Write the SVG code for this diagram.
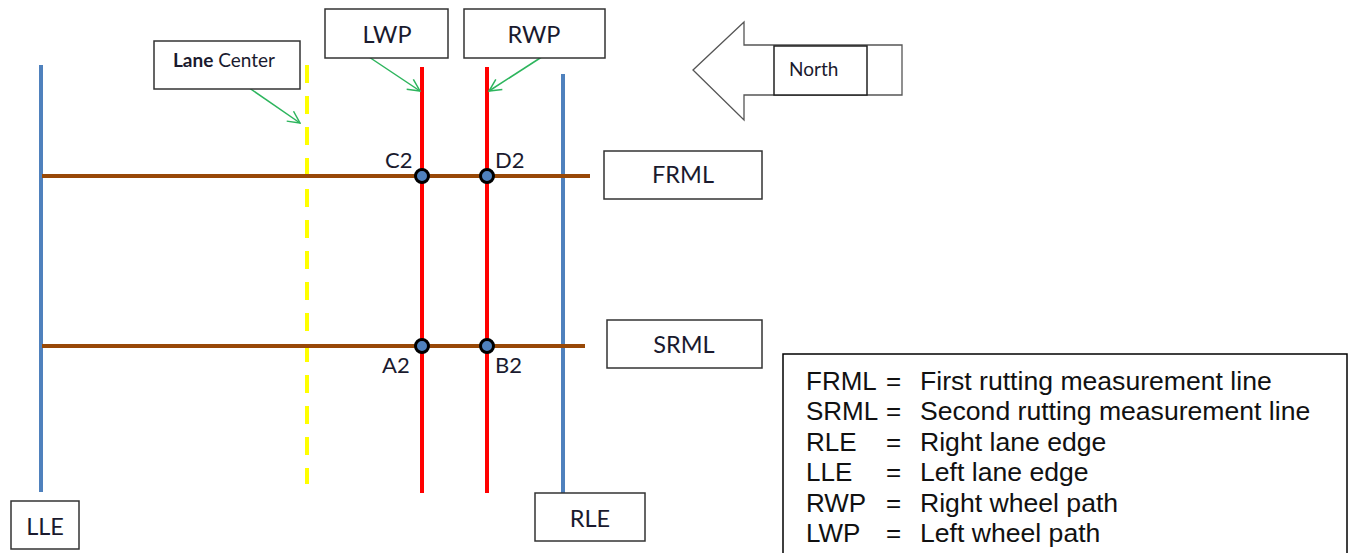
<svg xmlns="http://www.w3.org/2000/svg" width="1351" height="553" viewBox="0 0 1351 553">
<style>
.box{fill:#fff;stroke:#333;stroke-width:1.5}
.lbl{font-family:Lato,"Open Sans",sans-serif;font-size:23.5px;fill:#1a1a2e;text-anchor:middle}
.pt{font-family:Lato,"Open Sans",sans-serif;font-size:22px;fill:#1a1a2e}
.leg{font-family:"Liberation Sans",Arial,sans-serif;font-size:26px;fill:#111}
.desc{font-family:"Liberation Sans",Arial,sans-serif;font-size:26.6px;fill:#111}
.green{stroke:#2DB55D;stroke-width:1.5;fill:none;marker-end:url(#ah)}
.red{stroke:#FF0000;stroke-width:4}
.blue{stroke:#4F81BD;stroke-width:4}
.brown{stroke:#984807;stroke-width:4}
.dot{fill:#4F81BD;stroke:#000;stroke-width:3}
</style>
<defs>
<marker id="ah" markerWidth="14" markerHeight="14" viewBox="0 0 14 14" refX="13" refY="7" orient="auto" markerUnits="userSpaceOnUse">
<polyline points="1,1 13,7 1,13" fill="none" stroke="#2DB55D" stroke-width="1.5"/>
</marker>
</defs>
<rect width="1351" height="553" fill="#fff"/>
<g id="lines">
<line id="lle-line" class="blue" x1="41" y1="65" x2="41" y2="492"/>
<line id="rle-line" class="blue" x1="563" y1="74" x2="563" y2="501"/>
<line id="lane-center-line" x1="307" y1="65" x2="307" y2="484" stroke="#FFFF00" stroke-width="4" stroke-dasharray="18 13"/>
<line id="frml-line" class="brown" x1="42" y1="176" x2="590" y2="176"/>
<line id="srml-line" class="brown" x1="42" y1="346" x2="585" y2="346"/>
<line id="lwp-line" class="red" x1="422" y1="67" x2="422" y2="493"/>
<line id="rwp-line" class="red" x1="487" y1="67" x2="487" y2="493"/>
</g>
<g id="connectors">
<line class="green" x1="242" y1="83" x2="300" y2="123"/>
<line class="green" x1="360" y1="51" x2="420" y2="91"/>
<line class="green" x1="551" y1="51" x2="489" y2="91"/>
</g>
<g id="points">
<circle class="dot" cx="422" cy="176" r="6.5"/>
<circle class="dot" cx="487" cy="176" r="6.5"/>
<circle class="dot" cx="422" cy="346" r="6.5"/>
<circle class="dot" cx="487" cy="346" r="6.5"/>
<text class="pt" x="385" y="168">C2</text>
<text class="pt" x="495" y="168">D2</text>
<text class="pt" x="382" y="373">A2</text>
<text class="pt" x="495" y="373">B2</text>
</g>
<g id="lane-center">
<rect class="box" x="154" y="41" width="146" height="48"/>
<text x="173" y="67" font-family="Lato,'Open Sans',sans-serif" font-size="19" fill="#1a1a2e"><tspan font-weight="bold">Lane</tspan> Center</text>
</g>
<g id="lwp">
<rect class="box" x="325" y="9" width="123" height="49"/>
<text class="lbl" x="387" y="43">LWP</text>
</g>
<g id="rwp">
<rect class="box" x="464" y="9" width="141" height="49"/>
<text class="lbl" x="534" y="43">RWP</text>
</g>
<g id="north">
<polygon points="693,70 744,22 744,45 902,45 902,95 744,95 744,120" fill="#fff" stroke="#555" stroke-width="1.3"/>
<rect x="774" y="46" width="93" height="49" fill="#fff" stroke="#222" stroke-width="1.5"/>
<text x="789" y="76" font-family="Lato,'Open Sans',sans-serif" font-size="19" fill="#1a1a2e">North</text>
</g>
<g id="frml">
<rect class="box" x="604" y="151" width="158" height="48"/>
<text class="lbl" x="683" y="183">FRML</text>
</g>
<g id="srml">
<rect class="box" x="607" y="320" width="155" height="48"/>
<text class="lbl" x="684" y="353">SRML</text>
</g>
<g id="lle">
<rect class="box" x="11" y="501" width="68" height="48"/>
<text class="lbl" x="45" y="535">LLE</text>
</g>
<g id="rle">
<rect class="box" x="535" y="493" width="110" height="48"/>
<text class="lbl" x="590" y="527">RLE</text>
</g>
<g id="legend">
<rect x="783" y="354" width="564" height="220" fill="#fff" stroke="#000" stroke-width="1.5"/>
<text class="leg" x="806" y="390">FRML</text><text class="leg" x="886" y="390">=</text><text class="desc" x="920" y="390">First rutting measurement line</text>
<text class="leg" x="806" y="420">SRML</text><text class="leg" x="886" y="420">=</text><text class="desc" x="920" y="420">Second rutting measurement line</text>
<text class="leg" x="806" y="451">RLE</text><text class="leg" x="886" y="451">=</text><text class="desc" x="920" y="451">Right lane edge</text>
<text class="leg" x="806" y="481">LLE</text><text class="leg" x="886" y="481">=</text><text class="desc" x="920" y="481">Left lane edge</text>
<text class="leg" x="806" y="512">RWP</text><text class="leg" x="886" y="512">=</text><text class="desc" x="920" y="512">Right wheel path</text>
<text class="leg" x="806" y="542">LWP</text><text class="leg" x="886" y="542">=</text><text class="desc" x="920" y="542">Left wheel path</text>
</g>
</svg>
